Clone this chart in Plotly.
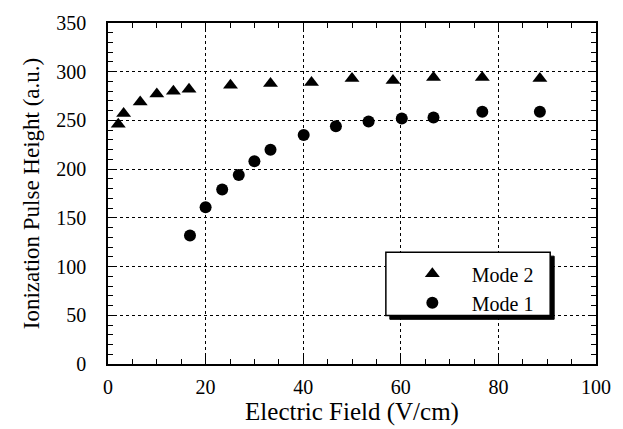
import plotly.graph_objects as go

# Mode 2 (triangles)
mode2_field = [2.1, 3.2, 6.6, 10.0, 13.4, 16.6, 25.1, 33.3, 41.7, 50.0, 58.4, 66.7, 76.7, 88.5]
mode2_height = [246, 257, 269, 277, 280, 282, 286, 288, 289, 293, 291, 294, 294, 293]

# Mode 1 (circles)
mode1_field = [16.8, 20.0, 23.4, 26.8, 30.0, 33.3, 40.1, 46.7, 53.4, 60.2, 66.7, 76.7, 88.5]
mode1_height = [132, 161, 179, 194, 208, 220, 235, 244, 249, 252, 253, 259, 259]

x_ticks = [0, 20, 40, 60, 80, 100]
y_ticks = [0, 50, 100, 150, 200, 250, 300, 350]

FONT = "Liberation Serif, Times New Roman, serif"

fig = go.Figure()
fig.add_trace(go.Scatter(x=mode2_field, y=mode2_height, mode="markers", name="Mode 2",
                         marker=dict(symbol="triangle-up", size=13, color="black")))
fig.add_trace(go.Scatter(x=mode1_field, y=mode1_height, mode="markers", name="Mode 1",
                         marker=dict(symbol="circle", size=12, color="black")))

L, R, T, B = 108, 25, 18, 60
W, H = 623, 429
pw, ph = W - L - R, H - T - B

def px2paper(x, y):
    return (x - L) / pw, (H - B - y) / ph

# legend box with drop shadow
bx0, by0 = px2paper(387, 254)
bx1, by1 = px2paper(552, 319)
sx0, sy0 = px2paper(391, 258)
sx1, sy1 = px2paper(556, 323)
shapes = [
    dict(type="rect", xref="paper", yref="paper", x0=sx0, y0=sy1, x1=sx1, y1=sy0,
         fillcolor="black", line=dict(color="black", width=1), layer="above"),
    dict(type="rect", xref="paper", yref="paper", x0=bx0, y0=by1, x1=bx1, y1=by0,
         fillcolor="white", line=dict(color="black", width=1.5), layer="above"),
]

lx, ly = px2paper(394, 256)

axis_common = dict(
    showline=True, linecolor="black", linewidth=1.5, mirror="allticks",
    ticks="inside", ticklen=8, tickwidth=1, tickcolor="black",
    showgrid=True, gridcolor="black", griddash="dot", gridwidth=1,
    zeroline=False,
    tickfont=dict(family=FONT, size=20, color="black"),
)

fig.update_layout(
    width=W, height=H,
    margin=dict(l=L, r=R, t=T, b=B),
    paper_bgcolor="white", plot_bgcolor="white",
    font=dict(family=FONT, color="black"),
    showlegend=True,
    legend=dict(x=lx, y=ly, xanchor="left", yanchor="top", bgcolor="rgba(0,0,0,0)",
                borderwidth=0, font=dict(family=FONT, size=20, color="black"),
                itemwidth=69, tracegroupgap=0),
    shapes=shapes,
    xaxis=dict(range=[0, 100], tickvals=x_ticks, ticklabelstandoff=4,
               minor=dict(dtick=5, ticks="inside", ticklen=5, tickcolor="black", showgrid=False),
               title=dict(text="Electric Field (V/cm)", font=dict(family=FONT, size=25), standoff=2),
               **axis_common),
    yaxis=dict(range=[0, 350], tickvals=y_ticks, ticklabelstandoff=16,
               minor=dict(dtick=10, ticks="inside", ticklen=5, tickcolor="black", showgrid=False),
               title=dict(text="Ionization Pulse Height (a.u.)", font=dict(family=FONT, size=23), standoff=10),
               **axis_common),
)

fig.write_html("out.html", config={"displayModeBar": False},
               post_script="document.body.style.margin='0';")
